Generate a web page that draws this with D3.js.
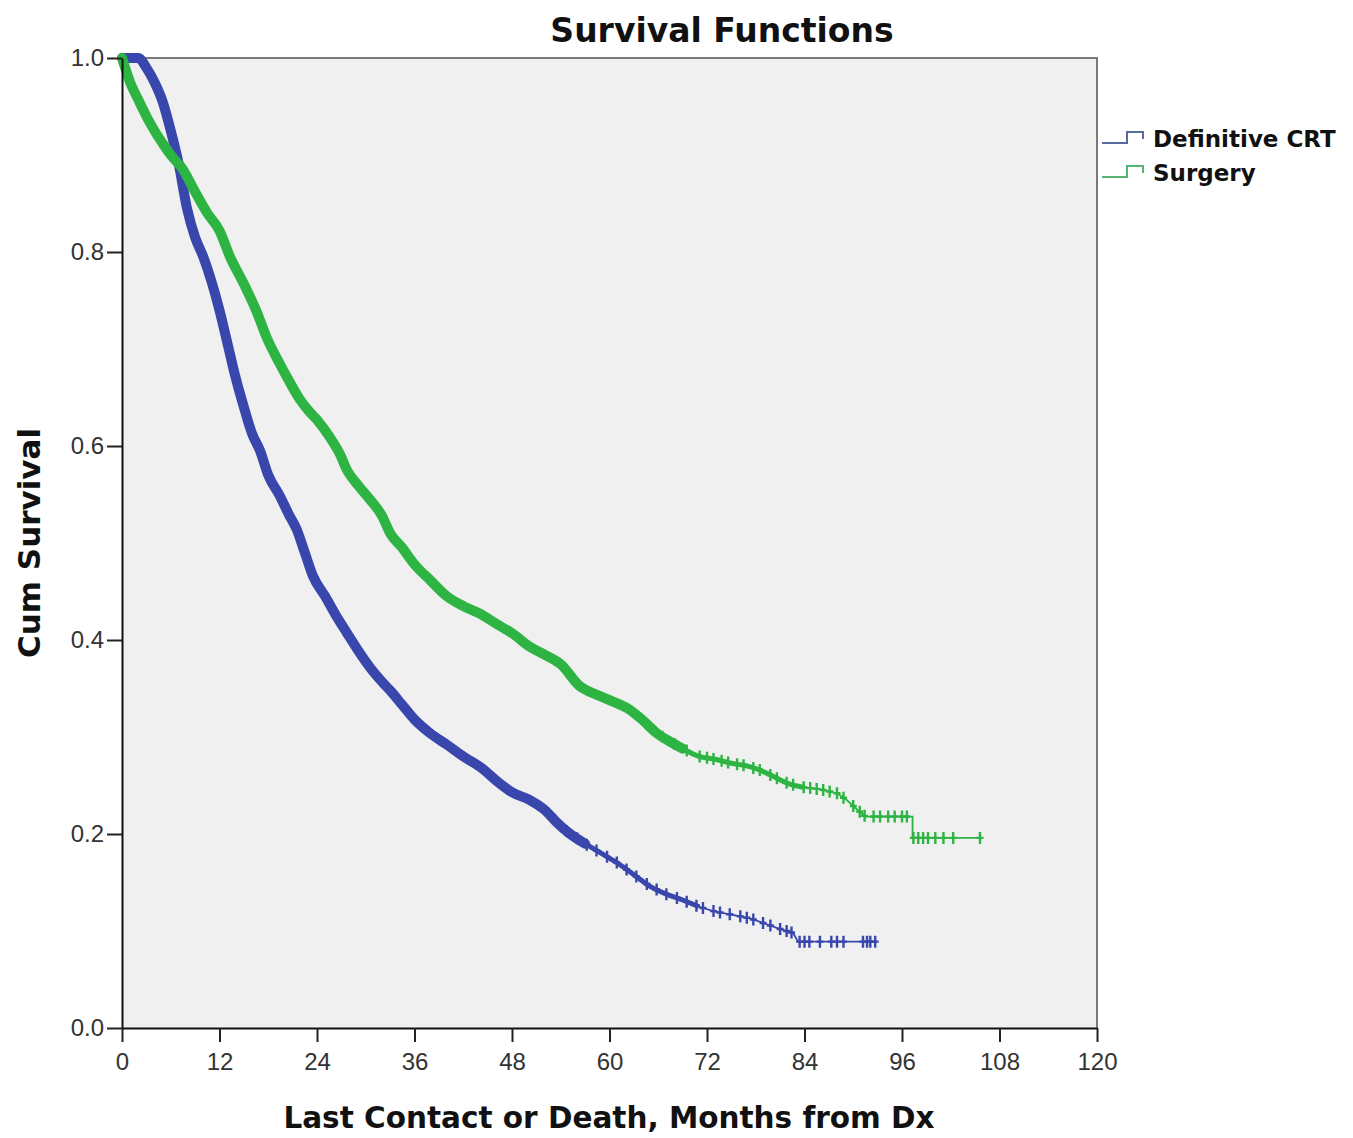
<!DOCTYPE html>
<html>
<head>
<meta charset="utf-8">
<script src="https://cdn.jsdelivr.net/npm/d3@7"></script>
<style>
    body { margin: 0; background: #fff; }
    text { font-family: "Liberation Sans", Arial, sans-serif; }
    .heading { font-family: "DejaVu Sans", Verdana, sans-serif; font-weight: bold; fill: #111; }
</style>
</head>
<body>
<div id="chart"></div>
<script>
// Kaplan-Meier estimates: [month, cumulative survival]
const crtCurve = [
    [0, 1.0], [2, 1.0], [3, 0.99], [4, 0.975], [5, 0.955], [6, 0.925], [7, 0.89],
    [8, 0.845], [9, 0.815], [10, 0.795], [11, 0.77], [12, 0.74], [13, 0.705],
    [14, 0.67], [15, 0.64], [16, 0.613], [17, 0.595], [18, 0.57], [19.4, 0.549],
    [20.5, 0.53], [21.5, 0.514], [22.5, 0.49], [23.5, 0.466], [25, 0.445],
    [26.5, 0.423], [27.7, 0.407], [29, 0.39], [30.5, 0.372], [32, 0.357],
    [33, 0.348], [34.5, 0.333], [36, 0.318], [37.9, 0.304], [40, 0.292],
    [42, 0.28], [44.1, 0.269], [46.5, 0.252], [48, 0.243], [50.2, 0.235],
    [52, 0.225], [53.5, 0.212], [55, 0.201], [57, 0.19], [59, 0.18], [61, 0.17],
    [63, 0.158], [65, 0.146], [67, 0.138], [69, 0.132], [71, 0.125], [73, 0.12],
    [75, 0.117], [77.3, 0.113], [79, 0.108], [81, 0.102], [82.6, 0.098],
    [83.2, 0.089], [92.9, 0.089]
];
const surgeryCurve = [
    [0, 1.0], [1, 0.975], [2, 0.957], [3, 0.94], [4, 0.925], [5, 0.912], [6, 0.9],
    [7.5, 0.885], [9, 0.862], [10.5, 0.84], [12, 0.822], [13.3, 0.795], [15, 0.767],
    [16.5, 0.74], [17.8, 0.712], [19.4, 0.685], [20.5, 0.668], [21.9, 0.648],
    [23, 0.636], [24, 0.627], [25.5, 0.61], [26.8, 0.592], [27.7, 0.575],
    [29, 0.56], [30.5, 0.545], [32, 0.528], [33, 0.51], [34.5, 0.495], [36, 0.478],
    [37.9, 0.462], [40, 0.445], [42, 0.435], [44.1, 0.427], [46, 0.417],
    [48, 0.407], [50.2, 0.393], [52, 0.385], [54, 0.375], [56.4, 0.352],
    [58, 0.345], [60, 0.338], [62.5, 0.328], [64, 0.318], [65.8, 0.304],
    [67.5, 0.295], [69, 0.288], [71, 0.28], [73, 0.277], [75, 0.273], [77, 0.27],
    [78.5, 0.266], [80, 0.26], [82, 0.252], [84, 0.248], [86, 0.246], [88, 0.242],
    [89.2, 0.235], [90.5, 0.225], [91.5, 0.218], [97.3, 0.218], [97.3, 0.196],
    [105.9, 0.196]
];
// censored cases (only where the marks can be told apart)
const crtCensored = [
    54.7, 56.0, 57.2, 58.4, 59.7, 60.9, 62.1, 63.3, 64.6, 65.8, 67.0, 68.3, 69.5,
    70.7, 71.5, 72.8, 73.6, 74.8, 76.1, 76.9, 77.7, 78.9, 79.8, 81.0, 81.8, 82.4,
    83.4, 84.0, 84.6, 85.9, 87.3, 88.0, 88.8, 91.2, 91.7, 92.1, 92.7
];
const surgeryCensored = [
    66.5, 68.0, 69.5, 71.1, 72.0, 72.8, 73.8, 74.6, 75.7, 76.5, 77.7, 78.5, 79.8,
    80.6, 81.8, 82.6, 83.9, 84.7, 85.5, 86.3, 87.1, 88.0, 88.8, 90.0, 90.8, 91.4,
    92.5, 93.3, 94.3, 95.1, 96.0, 96.6, 97.4, 98.0, 98.6, 99.2, 100.1, 101.1,
    102.3, 105.6
];
const seriesNames = ['Definitive CRT', 'Surgery'];
const xTicks = [0, 12, 24, 36, 48, 60, 72, 84, 96, 108, 120];
const yTicks = [0, 0.2, 0.4, 0.6, 0.8, 1.0];

const W = 1353, H = 1138;
const plotL = 122, plotT = 58, plotR = 1097, plotB = 1028;

const svg = d3.select('#chart').append('svg')
    .attr('width', W)
    .attr('height', H);

const x = d3.scaleLinear().domain([0, 120]).range([plotL, plotR]);
const y = d3.scaleLinear().domain([0, 1]).range([plotB, plotT]);

// plot frame
svg.append('rect')
    .attr('x', plotL).attr('y', plotT)
    .attr('width', plotR - plotL).attr('height', plotB - plotT)
    .attr('fill', '#f0f0f0');
svg.append('path')
    .attr('d', `M${plotL},${plotT}H${plotR}V${plotB}`)
    .attr('fill', 'none').attr('stroke', '#7a7a7a').attr('stroke-width', 2);

// dense = months where marks merge into a solid band, mid = still crowded
const series = [
    {name: seriesNames[0], curve: crtCurve, censored: crtCensored, dense: 58, mid: 71, color: '#3947ad', key: '#5b6a9c'},
    {name: seriesNames[1], curve: surgeryCurve, censored: surgeryCensored, dense: 69, mid: 84, color: '#2db443', key: '#55b573'},
];

const line = d3.line()
    .x(d => x(d[0]))
    .y(d => y(d[1]));
const smooth = d3.line()
    .x(d => x(d[0]))
    .y(d => y(d[1]))
    .curve(d3.curveMonotoneX);

function survAt(curve, t) {
    let i = 0;
    while (i < curve.length - 1 && curve[i + 1][0] <= t) i++;
    if (i === curve.length - 1) return curve[i][1];
    const a = curve[i], b = curve[i + 1];
    return a[1] + (b[1] - a[1]) * (t - a[0]) / (b[0] - a[0]);
}

series.forEach(s => {
    const g = svg.append('g');
    g.append('path')
        .attr('d', smooth(s.curve.filter(d => d[0] <= s.dense)))
        .attr('fill', 'none')
        .attr('stroke', s.color)
        .attr('stroke-width', 10)
        .attr('stroke-linejoin', 'round')
        .attr('stroke-linecap', 'round');
    g.append('path')
        .attr('d', smooth(s.curve.filter(d => d[0] <= s.mid)))
        .attr('fill', 'none')
        .attr('stroke', s.color)
        .attr('stroke-width', 5)
        .attr('stroke-linejoin', 'round');
    g.append('path')
        .attr('d', line(s.curve.filter(d => d[0] >= s.mid - 3)))
        .attr('fill', 'none')
        .attr('stroke', s.color)
        .attr('stroke-width', 1.8);
    g.selectAll('.cens')
        .data(s.censored)
        .enter().append('path')
        .attr('d', t => {
            const cx = x(t), cy = y(survAt(s.curve, t));
            return `M${cx},${cy - 6}V${cy + 6}M${cx - 3.5},${cy}H${cx + 3.5}`;
        })
        .attr('stroke', s.color)
        .attr('stroke-width', 2.4);
});

// axes
const xAxis = svg.append('g')
    .attr('transform', `translate(0,${plotB})`)
    .call(d3.axisBottom(x).tickValues(xTicks).tickSize(14).tickPadding(11).tickSizeOuter(0));
const yAxis = svg.append('g')
    .attr('transform', `translate(${plotL},0)`)
    .call(d3.axisLeft(y).tickValues(yTicks).tickFormat(d3.format('.1f')).tickSize(15).tickPadding(3).tickSizeOuter(0));

[xAxis, yAxis].forEach(a => {
    a.select('.domain').attr('stroke', '#111').attr('stroke-width', 2);
    a.selectAll('.tick line').attr('stroke', '#222').attr('stroke-width', 2);
    a.selectAll('.tick text')
        .attr('fill', '#333')
        .style('font-size', '24px')
        .style('font-family', '"Liberation Sans", Arial, sans-serif');
});

// titles
svg.append('text')
    .attr('class', 'heading')
    .attr('x', 722).attr('y', 42)
    .attr('text-anchor', 'middle')
    .style('font-size', '33px')
    .text('Survival Functions');
svg.append('text')
    .attr('class', 'heading')
    .attr('x', 609).attr('y', 1128)
    .attr('text-anchor', 'middle')
    .style('font-size', '29.5px')
    .text('Last Contact or Death, Months from Dx');
svg.append('text')
    .attr('class', 'heading')
    .attr('transform', `translate(40,543) rotate(-90)`)
    .attr('text-anchor', 'middle')
    .style('font-size', '31px')
    .text('Cum Survival');

// legend
const legend = svg.append('g');
series.forEach((s, i) => {
    const ly = 147 + i * 34;
    legend.append('path')
        .attr('d', `M1102,${ly - 4}H1127V${ly - 15}H1143V${ly - 8}`)
        .attr('fill', 'none')
        .attr('stroke', s.key)
        .attr('stroke-width', 2);
    legend.append('text')
        .attr('class', 'heading')
        .attr('x', 1153).attr('y', ly)
        .style('font-size', '23px')
        .text(s.name);
});
</script>
</body>
</html>
